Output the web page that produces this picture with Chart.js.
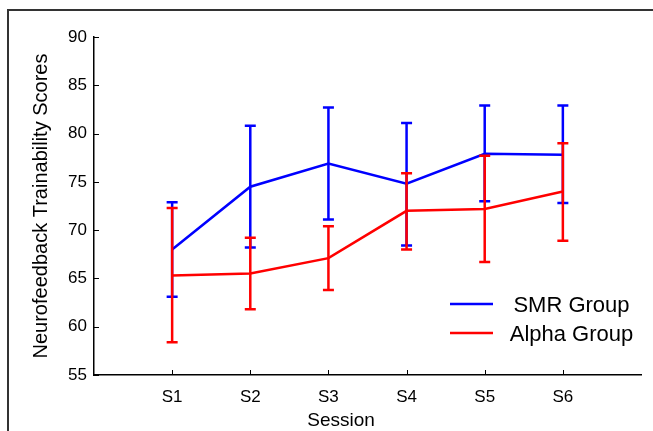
<!DOCTYPE html>
<html>
<head>
<meta charset="utf-8">
<script src="https://cdn.jsdelivr.net/npm/chart.js@4/dist/chart.umd.min.js"></script>
<style>
	body {margin:0; background:#fff;}
	#wrap {width:653px; height:431px;}
</style>
</head>
<body>
<div id="wrap"><canvas id="TrainChart" width="653" height="431"></canvas></div>
<script>
var sessions = ['S1', 'S2', 'S3', 'S4', 'S5', 'S6'];
var yTicks = [55, 60, 65, 70, 75, 80, 85, 90];

var smrMean  = [68.0, 74.5, 76.9, 74.8, 77.9, 77.8];
var smrUpper = [72.9, 80.8, 82.7, 81.1, 82.9, 82.9];
var smrLower = [63.1, 68.2, 71.1, 68.4, 73.0, 72.8];

var alphaMean  = [65.3, 65.5, 67.1, 72.0, 72.2, 74.0];
var alphaUpper = [72.3, 69.2, 70.4, 75.9, 77.7, 79.0];
var alphaLower = [58.4, 61.8, 63.8, 68.0, 66.7, 68.9];

var fontFam = '"Liberation Sans", Arial, sans-serif';

function toPoints(arr){
	return arr.map(function (v, i) {return {x: i + 1, y: v};});
}

//draws the whisker bars right after each line so the stacking follows the lines
var errorBars = {
	id: 'errorBars',
	afterDatasetDraw: function(chart, args){
		var ds = chart.data.datasets[args.index];
		var ctx = chart.ctx, xs = chart.scales.x, ys = chart.scales.y;
		ctx.save();
		ctx.strokeStyle = ds.borderColor;
		ctx.lineWidth = 2.5;
		for (var i = 0; i < ds.upper.length; i++) {
			var px = xs.getPixelForValue(i + 1);
			var top = ys.getPixelForValue(ds.upper[i]);
			var bot = ys.getPixelForValue(ds.lower[i]);
			ctx.beginPath();
			ctx.moveTo(px, top); ctx.lineTo(px, bot);
			ctx.moveTo(px - 5.5, top); ctx.lineTo(px + 5.5, top);
			ctx.moveTo(px - 5.5, bot); ctx.lineTo(px + 5.5, bot);
			ctx.stroke();
		}
		ctx.restore();
	}
};

//frame, inward tick marks, x title and legend box
var decor = {
	id: 'decor',
	beforeDraw: function(chart){
		var ctx = chart.ctx;
		ctx.save();
		ctx.fillStyle = '#fff';
		ctx.fillRect(0, 0, chart.width, chart.height);
		ctx.strokeStyle = '#333';
		ctx.lineWidth = 2;
		ctx.beginPath();
		ctx.moveTo(8, chart.height); ctx.lineTo(8, 10); ctx.lineTo(chart.width, 10);
		ctx.stroke();
		ctx.restore();
	},
	afterDraw: function(chart){
		var ctx = chart.ctx, xs = chart.scales.x, ys = chart.scales.y;
		var area = chart.chartArea;
		ctx.save();
		ctx.strokeStyle = '#000';
		ctx.lineWidth = 1;
		ctx.beginPath();
		yTicks.forEach(function (v) {
			var py = Math.round(ys.getPixelForValue(v)) + 0.5;
			ctx.moveTo(area.left, py); ctx.lineTo(area.left + 5, py);
		});
		sessions.forEach(function (s, i) {
			var px = Math.round(xs.getPixelForValue(i + 1)) + 0.5;
			ctx.moveTo(px, area.bottom); ctx.lineTo(px, area.bottom - 5);
		});
		ctx.stroke();

		ctx.fillStyle = '#000';
		ctx.font = '19px ' + fontFam;
		ctx.textAlign = 'center';
		ctx.textBaseline = 'middle';
		ctx.fillText('Session', 341, 421);

		// legend
		ctx.font = '22px ' + fontFam;
		var rows = [304, 333];
		chart.data.datasets.forEach(function (ds, i) {
			ctx.strokeStyle = ds.borderColor;
			ctx.lineWidth = 2.5;
			ctx.beginPath();
			ctx.moveTo(450, rows[i]); ctx.lineTo(493, rows[i]);
			ctx.stroke();
			ctx.fillText(ds.label, 571.5, rows[i] + 2);
		});
		ctx.restore();
	}
};

new Chart('TrainChart', {
	type: 'line',
	data: {
		datasets: [{
			label: 'SMR Group',
			data: toPoints(smrMean),
			upper: smrUpper,
			lower: smrLower,
			borderColor: '#0000ff',
			borderWidth: 2.5,
			order: 1
		}, {
			label: 'Alpha Group',
			data: toPoints(alphaMean),
			upper: alphaUpper,
			lower: alphaLower,
			borderColor: '#ff0000',
			borderWidth: 2.5,
			order: 0
		}]
	},
	options: {
		responsive: false,
		animation: false,
		devicePixelRatio: 1,
		layout: {padding: {left: 8, top: 37, right: 12, bottom: 0}},
		elements: {point: {radius: 0}, line: {tension: 0}},
		plugins: {legend: {display: false}, tooltip: {enabled: false}},
		scales: {
			x: {
				type: 'linear',
				min: 0,
				max: 7,
				afterBuildTicks: function(scale){
					scale.ticks = sessions.map(function (s, i) {return {value: i + 1};});
				},
				afterFit: function(scale){scale.height = 56;},
				grid: {display: false, drawTicks: false},
				border: {display: true, color: '#000', width: 1.5},
				ticks: {
					padding: 12,
					color: '#000',
					font: {family: fontFam, size: 17},
					callback: function(v){return sessions[v - 1];}
				}
			},
			y: {
				min: 55,
				max: 90,
				afterBuildTicks: function(scale){
					scale.ticks = yTicks.map(function (v) {return {value: v};});
				},
				afterFit: function(scale){scale.width = 86;},
				grid: {display: false, drawTicks: false},
				border: {display: true, color: '#000', width: 1.5},
				title: {
					display: true,
					text: 'Neurofeedback Trainability Scores',
					color: '#000',
					font: {family: fontFam, size: 20},
					padding: {top: 21, bottom: 0}
				},
				ticks: {
					padding: 7,
					color: '#000',
					font: {family: fontFam, size: 17}
				}
			}
		}
	},
	plugins: [decor, errorBars]
});
</script>
</body>
</html>
